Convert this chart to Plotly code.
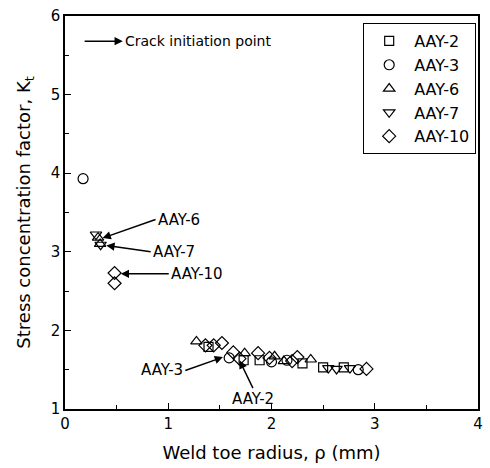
import plotly.graph_objects as go

# ---- data ----
aay2_x = [1.39, 1.73, 1.885, 2.30, 2.50, 2.70]
aay2_y = [1.79, 1.62, 1.62, 1.58, 1.53, 1.53]

aay3_x = [0.175, 1.59, 2.00, 2.15, 2.84]
aay3_y = [3.93, 1.65, 1.60, 1.62, 1.50]

aay6_x = [0.32, 0.34, 1.273, 1.74, 2.03, 2.12, 2.38]
aay6_y = [3.18, 3.10, 1.86, 1.71, 1.67, 1.61, 1.63]

aay7_x = [0.30, 0.345, 2.55, 2.63, 2.76]
aay7_y = [3.22, 3.09, 1.52, 1.51, 1.52]

aay10_x = [0.48, 0.48, 1.36, 1.44, 1.52, 1.63, 1.69, 1.87, 1.98, 2.20, 2.25, 2.92]
aay10_y = [2.73, 2.60, 1.81, 1.81, 1.84, 1.72, 1.64, 1.71, 1.65, 1.61, 1.66, 1.51]

series_names = ["AAY-2", "AAY-3", "AAY-6", "AAY-7", "AAY-10"]
x_ticks = [0, 1, 2, 3, 4]
y_ticks = [1, 2, 3, 4, 5, 6]

FONT = "DejaVu Sans"

fig = go.Figure()
specs = [
    (aay2_x, aay2_y, "square-open", 9),
    (aay3_x, aay3_y, "circle-open", 10),
    (aay6_x, aay6_y, "triangle-up-open", 10),
    (aay7_x, aay7_y, "triangle-down-open", 10),
    (aay10_x, aay10_y, "diamond-open", 10),
]
for name, (xs, ys, sym, sz) in zip(series_names, specs):
    fig.add_trace(go.Scatter(
        x=xs, y=ys, mode="markers", name=name,
        marker=dict(symbol=sym, size=sz, color="black", line=dict(color="black", width=1.2)),
    ))

# annotations with arrows (tip at x,y ; tail at ax,ay)
arrows = [
    ("AAY-6", 0.364, 3.175, 0.877, 3.41, "left", "middle"),
    ("AAY-7", 0.40, 3.08, 0.83, 3.00, "left", "middle"),
    ("AAY-10", 0.54, 2.72, 1.005, 2.72, "left", "middle"),
    ("AAY-3", 1.53, 1.66, 1.165, 1.49, "right", "middle"),
    ("AAY-2", 1.69, 1.62, 1.82, 1.265, "center", "top"),
]
for text, x, y, ax, ay, xa, ya in arrows:
    fig.add_annotation(
        x=x, y=y, ax=ax, ay=ay, xref="x", yref="y", axref="x", ayref="y",
        text=text, showarrow=True, arrowhead=2, arrowsize=1.1, arrowwidth=1.5,
        arrowcolor="black", xanchor=xa, yanchor=ya,
        font=dict(family=FONT, size=15, color="black"),
    )

# "Crack initiation point" key: arrow whose head sits next to the text
fig.add_annotation(
    x=0.19, y=5.68, ax=0.56, ay=5.68, xref="x", yref="y", axref="x", ayref="y",
    text="Crack initiation point", showarrow=True, arrowside="start",
    startarrowhead=2, startarrowsize=1.1, arrowwidth=1.5, arrowcolor="black",
    xanchor="left", yanchor="middle", font=dict(family=FONT, size=14, color="black"),
)

axis_common = dict(
    showgrid=False, zeroline=False, showline=True, linecolor="black", linewidth=1.5,
    mirror=True, ticks="inside", ticklen=6, tickwidth=1.2, tickcolor="black",
    tickfont=dict(family=FONT, size=15, color="black"),
)
fig.update_xaxes(
    range=[0, 4], tickvals=x_ticks,
    minor=dict(ticks="inside", dtick=0.5, ticklen=4, tickwidth=1, tickcolor="black"),
    title=dict(text="Weld toe radius, ρ (mm)", font=dict(family=FONT, size=18, color="black")),
    **axis_common,
)
fig.update_yaxes(
    range=[1, 6], tickvals=y_ticks,
    minor=dict(ticks="inside", dtick=0.5, ticklen=4, tickwidth=1, tickcolor="black"),
    title=dict(text="Stress concentration factor, K<sub>t</sub>", font=dict(family=FONT, size=18, color="black")),
    **axis_common,
)

fig.update_layout(
    width=490, height=468,
    margin=dict(l=65, r=7, t=13, b=59),
    paper_bgcolor="white", plot_bgcolor="white",
    showlegend=True,
    legend=dict(
        x=0.722, y=0.982, xanchor="left", yanchor="top",
        bordercolor="black", borderwidth=1, bgcolor="white",
        font=dict(family=FONT, size=16, color="black"),
        itemwidth=40,
    ),
)

fig.write_html("out.html")
